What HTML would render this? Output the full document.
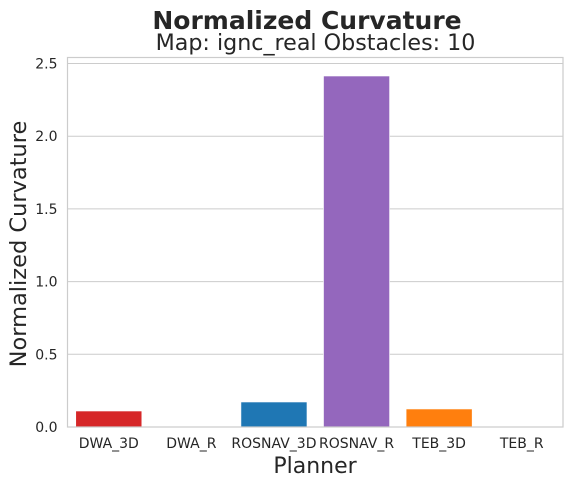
<!DOCTYPE html>
<html><head><meta charset="utf-8"><style>
body{margin:0;background:#fff;}
svg{display:block;font-family:"DejaVu Sans","Liberation Sans",sans-serif;}
</style></head><body>
<svg id="chart" width="573" height="486">
<text x="307" y="29" text-anchor="middle" font-size="25" font-weight="bold" fill="#262626">Normalized Curvature</text>
<text x="315.5" y="50" text-anchor="middle" font-size="22.2" fill="#262626">Map: ignc_real Obstacles: 10</text>
<text transform="translate(26,244) rotate(-90)" text-anchor="middle" font-size="22.5" fill="#262626">Normalized Curvature</text>
<text x="315" y="473" text-anchor="middle" font-size="22" fill="#262626">Planner</text>
<g id="grid"></g><g id="bars"></g><g id="ticks"></g>
<rect x="67.5" y="57.5" width="495.5" height="369.5" fill="none" stroke="#cccccc" stroke-width="1.2"/>
</svg>
<script>
const categories=["DWA_3D","DWA_R","ROSNAV_3D","ROSNAV_R","TEB_3D","TEB_R"];
const values=[0.110,0,0.172,2.414,0.124,0];
const colors=["#d62728","#8c564b","#1f77b4","#9467bd","#ff7f0e","#2ca02c"];
const yTicks=[0,0.5,1.0,1.5,2.0,2.5];
const yTickLabels=["0.0","0.5","1.0","1.5","2.0","2.5"];
const NS="http://www.w3.org/2000/svg";
const L=67.5,R=563,Y0=427,Y25=63.5;
function y(v){return Y0-(v/2.5)*(Y0-Y25);}
const bw=(R-L)/categories.length;
function x(i){return L+bw*i;}
const g=document.getElementById('grid'),b=document.getElementById('bars'),t=document.getElementById('ticks');
yTicks.forEach((v,i)=>{
 const ln=document.createElementNS(NS,'line');
 ln.setAttribute('x1',L);ln.setAttribute('x2',R);ln.setAttribute('y1',y(v));ln.setAttribute('y2',y(v));
 ln.setAttribute('stroke','#cccccc');ln.setAttribute('stroke-width','1');
 
 
 g.appendChild(ln);
 const tx=document.createElementNS(NS,'text');
 tx.setAttribute('x',L-10);tx.setAttribute('y',y(v)+5);tx.setAttribute('text-anchor','end');
 tx.setAttribute('font-size','14');tx.setAttribute('fill','#262626');tx.textContent=yTickLabels[i];
 
 
 t.appendChild(tx);
});
categories.forEach((c,i)=>{
 const r=document.createElementNS(NS,'rect');
 const w=bw*0.8,h=Y0-y(values[i]);
 r.setAttribute('x',x(i)+bw*0.1);r.setAttribute('y',y(values[i]));r.setAttribute('width',w);r.setAttribute('height',h);
 r.setAttribute('fill',colors[i]);r.setAttribute('stroke','#fff');r.setAttribute('stroke-width','0.6');
 
 
 b.appendChild(r);
 const tx=document.createElementNS(NS,'text');
 tx.setAttribute('x',x(i)+bw/2);tx.setAttribute('y',448);tx.setAttribute('text-anchor','middle');
 tx.setAttribute('font-size','14');tx.setAttribute('fill','#262626');tx.textContent=c;
 
 
 t.appendChild(tx);
});
</script>
</body></html>
